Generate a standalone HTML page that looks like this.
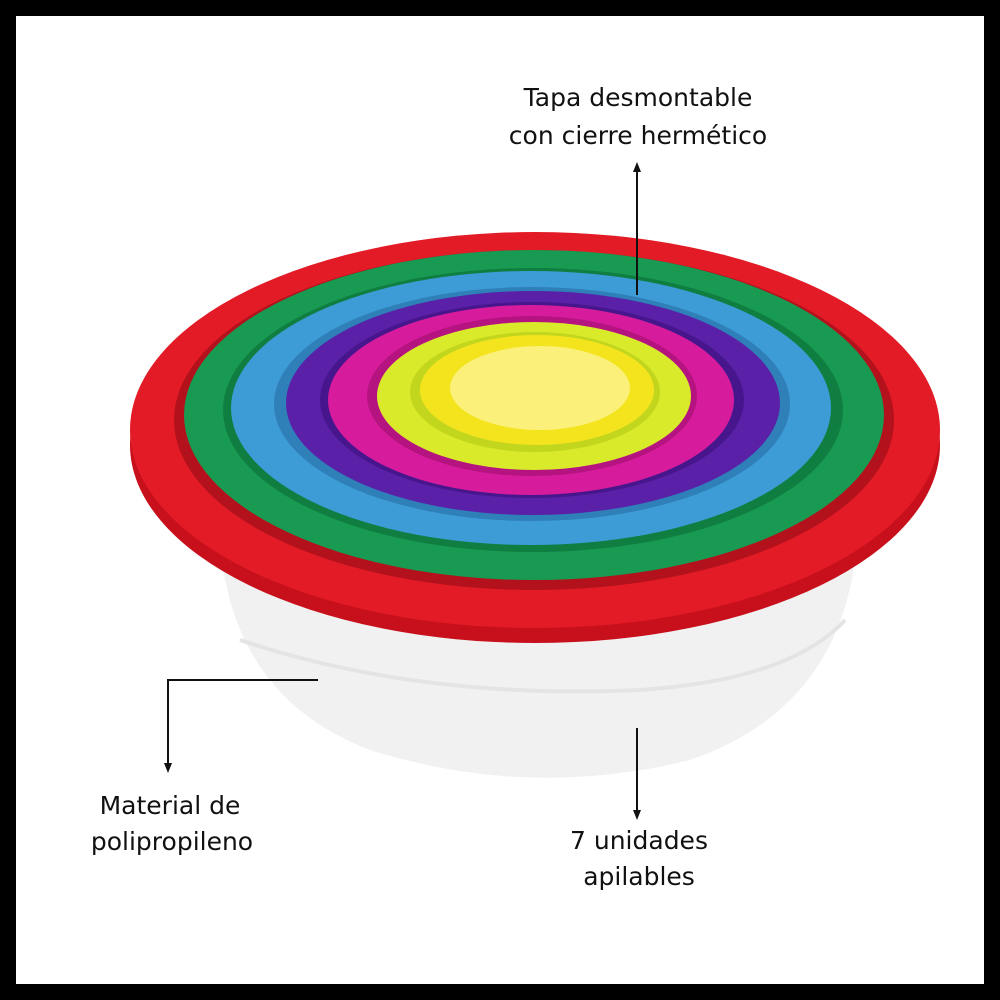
<!DOCTYPE html>
<html><head><meta charset="utf-8"><style>
html,body{margin:0;padding:0;background:#000;}
.wrap{position:relative;width:1000px;height:1000px;background:#000;}
svg{position:absolute;left:0;top:0;}
text{font-family:"DejaVu Sans","Liberation Sans",sans-serif;font-size:25px;fill:#111;}
</style></head><body><div class="wrap">
<svg width="1000" height="1000" viewBox="0 0 1000 1000">
<rect x="16" y="16" width="968" height="968" fill="#fff"/>
<path d="M222 560 Q240 700 370 750 Q530 800 690 760 Q835 710 855 560 Z" fill="#f1f1f1"/>
<path d="M240 640 Q420 700 640 690 Q790 680 845 620" stroke="#e4e4e4" stroke-width="4" fill="none"/>
<ellipse cx="535" cy="445" rx="405" ry="198" fill="#c8101c"/>
<ellipse cx="535" cy="430" rx="405" ry="198" fill="#e21b26"/>
<ellipse cx="534" cy="420" rx="360" ry="170" fill="#b3121c"/>
<ellipse cx="534" cy="415" rx="350" ry="165" fill="#189a52"/>
<ellipse cx="533" cy="410" rx="310" ry="142" fill="#0f7e40"/>
<ellipse cx="531" cy="408" rx="300" ry="137" fill="#3d9bd6"/>
<ellipse cx="532" cy="404" rx="258" ry="117" fill="#2f7fb8"/>
<ellipse cx="533" cy="403" rx="247" ry="112" fill="#5a21a8"/>
<ellipse cx="532" cy="400" rx="212" ry="98" fill="#47168c"/>
<ellipse cx="531" cy="400" rx="203" ry="95" fill="#d61c9c"/>
<ellipse cx="532" cy="396" rx="165" ry="80" fill="#b5137f"/>
<ellipse cx="534" cy="396" rx="157" ry="74" fill="#d9ea2a"/>
<ellipse cx="535" cy="392" rx="125" ry="60" fill="#c2d61d"/>
<ellipse cx="537" cy="390" rx="117" ry="55" fill="#f4e41e"/>
<ellipse cx="540" cy="388" rx="90" ry="42" fill="#fbf07a"/>
<text x="638" y="106" text-anchor="middle">Tapa desmontable</text>
<text x="638" y="144" text-anchor="middle">con cierre hermético</text>
<line x1="637" y1="170" x2="637" y2="295" stroke="#111" stroke-width="2"/>
<polygon points="637,162 633,172 641,172" fill="#111"/>
<polyline points="318,680 168,680 168,765" stroke="#111" stroke-width="2" fill="none"/>
<polygon points="168,773 164,763 172,763" fill="#111"/>
<text x="170" y="814" text-anchor="middle">Material de</text>
<text x="172" y="850" text-anchor="middle">polipropileno</text>
<line x1="637" y1="728" x2="637" y2="812" stroke="#111" stroke-width="2"/>
<polygon points="637,820 633,810 641,810" fill="#111"/>
<text x="639" y="849" text-anchor="middle">7 unidades</text>
<text x="639" y="885" text-anchor="middle">apilables</text>
</svg></div></body></html>
